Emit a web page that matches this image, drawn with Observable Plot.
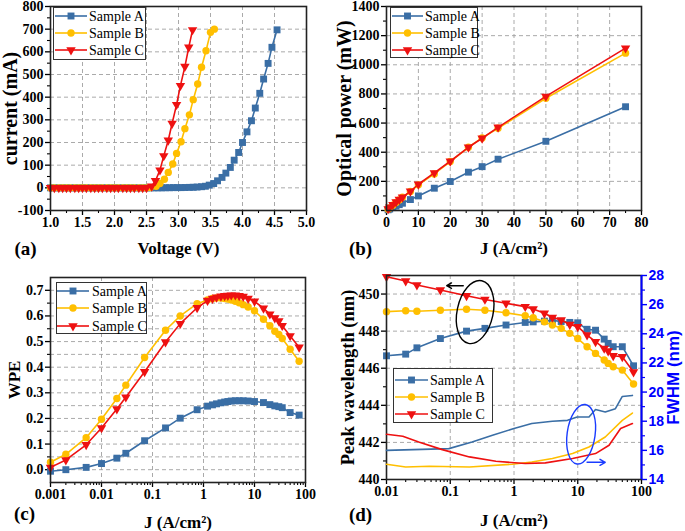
<!DOCTYPE html>
<html><head><meta charset="utf-8">
<script src="https://cdn.jsdelivr.net/npm/d3@7"></script>
<script src="https://cdn.jsdelivr.net/npm/@observablehq/plot@0.6"></script>
<style>
body{margin:0;background:#fff}
#fig{position:relative;width:685px;height:531px;overflow:hidden;background:#fff}
#fig svg{position:absolute}
</style></head><body><div id="fig"></div>
<script>
// ---------- data ----------
const sampleKeys = ["A","B","C"];
const sampleNames = ["Sample A","Sample B","Sample C"];
const colors = {A:"#3a6ea5", B:"#ffbf00", C:"#ee1111"};

// (a) I-V
const aV_A = [1.00,1.06,1.13,1.19,1.25,1.31,1.38,1.44,1.50,1.56,1.63,1.69,1.75,1.81,1.88,1.94,2.00,2.06,2.13,2.19,2.25,2.31,2.38,2.44,2.50,2.56,2.62,2.68,2.74,2.80,2.86,2.92,2.98,3.04,3.10,3.17,3.23,3.29,3.36,3.42,3.48,3.55,3.61,3.68,3.74,3.81,3.87,3.94,4.00,4.07,4.14,4.20,4.27,4.33,4.40,4.46,4.54];
const aI_A = [0,0,0,0,0,0,0,0,0,0,0,0,0,0,0,0,0,0,0,0,0,0,0,0,0,0,0,0,0,0.5,0.5,1,1,1,1.5,2,2.5,3.5,5,7,12,19,31,46,65,90,122,156,200,247,296,352,417,480,549,620,697];
const aV_B = [1.00,1.06,1.13,1.19,1.25,1.31,1.38,1.44,1.50,1.56,1.63,1.69,1.75,1.81,1.88,1.94,2.00,2.06,2.13,2.19,2.25,2.31,2.38,2.44,2.50,2.56,2.65,2.71,2.78,2.84,2.91,2.97,3.04,3.10,3.17,3.23,3.30,3.36,3.43,3.50,3.56];
const aI_B = [0,0,0,0,0,0,0,0,0,0,0,0,0,0,0,0,0,0,0,0,0,0,0,0,0,1,7,19,38,68,105,152,203,261,322,389,458,532,605,686,700];
const aV_C = [1.00,1.06,1.13,1.19,1.25,1.31,1.38,1.44,1.50,1.56,1.63,1.69,1.75,1.81,1.88,1.94,2.00,2.06,2.13,2.19,2.25,2.31,2.38,2.44,2.50,2.58,2.64,2.71,2.77,2.84,2.90,2.97,3.03,3.10,3.16,3.22];
const aI_C = [0,0,0,0,0,0,0,0,0,0,0,0,0,0,0,0,0,0,0,0,0,0,0,0,0,7,31,78,141,210,284,367,451,535,620,697];
const aXTicks = [1,1.5,2,2.5,3,3.5,4,4.5,5];
const aXMinor = [1.25,1.75,2.25,2.75,3.25,3.75,4.25,4.75];
const aYTicks = [-100,0,100,200,300,400,500,600,700,800];
const aYMinor = [-50,50,150,250,350,450,550,650,750];

// (b) optical power
const bJ = [0.5,1,2,3,4,5,7.5,10,15,20,25.7,30,35,50,75];
const bP_A = [5,10,20,30,40,50,75,100,153,199,263,301,352,475,712];
const bP_B = [9,18,36,55,72,91,130,176,251,336,434,498,564,770,1080];
const bP_C = [11,22,40,58,75,91,132,180,258,338,434,496,571,783,1114];
const bXTicks = [0,10,20,30,40,50,60,70,80];
const bXMinor = [5,15,25,35,45,55,65,75];
const bYTicks = [0,200,400,600,800,1000,1200,1400];
const bYMinor = [100,300,500,700,900,1100,1300];

// (c) WPE
const cJ = [0.001,0.002,0.005,0.01,0.02,0.03,0.07,0.18,0.35,0.75,1.2,1.5,1.8,2.2,2.6,3.0,3.5,4.2,5.0,6.0,7.5,10,15,20,25,30,35,50,75];
const cW_A = [-0.006,0.0,0.009,0.024,0.045,0.064,0.113,0.163,0.201,0.234,0.248,0.253,0.257,0.261,0.264,0.266,0.268,0.269,0.269,0.269,0.268,0.266,0.262,0.254,0.249,0.246,0.242,0.223,0.213];
const cW_B = [0.029,0.060,0.125,0.197,0.278,0.330,0.438,0.544,0.600,0.648,0.662,0.668,0.670,0.670,0.668,0.666,0.662,0.657,0.651,0.644,0.635,0.620,0.587,0.562,0.540,0.528,0.512,0.470,0.423];
const cW_C = [0.009,0.038,0.097,0.163,0.237,0.283,0.382,0.498,0.570,0.632,0.660,0.668,0.673,0.677,0.679,0.680,0.681,0.681,0.679,0.676,0.668,0.657,0.630,0.607,0.592,0.580,0.562,0.522,0.478];
const cXTicks = [0.001,0.01,0.1,1,10,100];
const cYTicks = [0,0.1,0.2,0.3,0.4,0.5,0.6,0.7];
const cYMinor = [0.05,0.15,0.25,0.35,0.45,0.55,0.65];

// (d) peak wavelength + FWHM
const dJ = [0.01,0.02,0.03,0.07,0.18,0.35,0.75,1.5,2,3,4,5.5,7.5,10,14,19,26,30,36,50,75];
const dWL_A = [446.67,446.76,447.1,447.6,448.0,448.15,448.33,448.47,448.5,448.54,448.58,448.52,448.47,448.45,448.1,448.05,447.57,447.34,447.16,447.16,446.13];
const dWL_B = [449.05,449.1,449.07,449.13,449.18,449.13,448.99,448.83,448.72,448.5,448.33,448.15,447.88,447.6,447.16,446.8,446.44,446.26,446.08,445.9,445.15];
const dWL_C = [450.93,450.7,450.49,450.22,449.91,449.71,449.5,449.32,449.19,448.96,448.74,448.6,448.36,448.24,447.79,447.43,447.07,446.93,446.67,446.62,445.8];
const fJ_A = [0.01,0.095,0.22,0.46,1.0,1.9,4,6.9,9.8,15,19,27,39,50,72];
const fW_A = [16.0,16.12,16.58,17.03,17.5,17.84,18.0,18.06,18.29,18.29,18.8,18.63,18.86,19.7,19.77];
const fJ_B = [0.01,0.02,0.047,0.2,0.94,1.9,4,8.3,15,27,50,72];
const fW_B = [15.05,14.86,14.91,14.86,15.05,15.2,15.44,15.78,16.23,16.92,18.06,18.56];
const fJ_C = [0.01,0.018,0.032,0.075,0.2,0.52,1.5,3.1,8.3,19,31,47,72];
const fW_C = [17.1,16.97,16.58,16.05,15.55,15.25,15.1,15.14,15.44,15.78,16.35,17.5,17.84];
const dXTicks = [0.01,0.1,1,10,100];
const dYTicks = [440,442,444,446,448,450];
const dYMinor = [441,443,445,447,449];
const fYTicks = [14,16,18,20,22,24,26,28];
const fYMinor = [15,17,19,21,23,25,27];

// annotations in (d): loops and arrows (data coordinates)
const wlLoop = [{J:0.25, v:449.0}];
const wlArrow = [{J1:0.16, J2:0.088, v:450.45}];
const fwLoop = [{J:11.5, v:17.07}];
const fwArrow = [{J1:14, J2:27, v:15.18}];

// ---------- helpers ----------
const fig = document.getElementById("fig");
const serif = "'Liberation Serif','Times New Roman',serif";
const sans = "'Liberation Sans',Arial,sans-serif";
const baseStyle = {fontFamily: serif, fontSize: "14px", fontWeight: "bold", background: "transparent", color: "#000", overflow: "visible"};
const gridStyle = {stroke: "#a0a0a0", strokeOpacity: 1, strokeDasharray: "4,3", strokeWidth: 0.9};
const sym = {A:{symbol:"square", r:3.9, rotate:0}, B:{symbol:"circle", r:3.7, rotate:0}, C:{symbol:"triangle", r:3.5, rotate:180}};
const d3Sym = {A: d3.symbolSquare, B: d3.symbolCircle, C: d3.symbolTriangle};
const zip = (xs, ys) => xs.map((x, i) => ({x, y: ys[i]}));
const logMinor = (lo, hi) => { const t = []; for (let d = lo; d < hi; d *= 10) for (let m = 2; m <= 9; m++) t.push(+(d*m).toPrecision(3)); return t; };
const fmtLog = d => d3.format("~g")(d);
const mid = {textAnchor: "middle", lineAnchor: "middle"};

function place(el, left, top) { el.style.left = left + "px"; el.style.top = top + "px"; fig.append(el); }

function seriesMarks(sets, withDots = true) {
  return sets.flatMap(([k, data]) => [
    Plot.line(data, {x: "x", y: "y", stroke: colors[k], strokeWidth: 1.6}),
    ...(withDots ? [Plot.dot(data, {x: "x", y: "y", fill: colors[k], r: sym[k].r, symbol: sym[k].symbol, rotate: sym[k].rotate})] : [])
  ]);
}

function axesMarks({xT, xM, yT, yM, xF, yF, xG, yG}) {
  return [
    Plot.gridX({ticks: xG, ...gridStyle}),
    Plot.gridY({ticks: yG, ...gridStyle}),
    Plot.axisX({ticks: xM, tickSize: 3, tickFormat: () => "", label: null, strokeWidth: 1.1}),
    Plot.axisX({ticks: xT, tickSize: 5, tickPadding: 2, tickFormat: xF, label: null, strokeWidth: 1.3}),
    Plot.axisY({ticks: yM, tickSize: 3, tickFormat: () => "", label: null, strokeWidth: 1.1}),
    Plot.axisY({ticks: yT, tickSize: 5, tickPadding: 2, tickFormat: yF, label: null, strokeWidth: 1.3})
  ];
}

function titleMarks({xt, xdy, yt, ydx, yfs, lt, ldx, ldy}) {
  return [
    Plot.text([xt], {text: d => d, frameAnchor: "bottom", dy: xdy, fontSize: 17, ...mid}),
    Plot.text([yt], {text: d => d, frameAnchor: "left", dx: ydx, rotate: -90, fontSize: yfs, ...mid}),
    Plot.text([lt], {text: d => d, frameAnchor: "bottom-left", dx: ldx, dy: ldy, fontSize: 19, ...mid})
  ];
}

const frameMark = () => Plot.frame({stroke: "#222", strokeWidth: 1.6});

function legend(x0, y0, x1, y1, rows, lx1, lx2, tx) {
  const w = x1 - x0, h = y1 - y0;
  const svg = d3.create("svg").attr("width", w).attr("height", h).style("overflow", "visible");
  svg.append("rect").attr("x", 0.5).attr("y", 0.5).attr("width", w - 1).attr("height", h - 1)
    .attr("fill", "#fff").attr("stroke", "#333").attr("stroke-width", 1);
  sampleKeys.forEach((k, i) => {
    const cy = rows[i] - y0;
    svg.append("line").attr("x1", lx1 - x0).attr("x2", lx2 - x0).attr("y1", cy).attr("y2", cy)
      .attr("stroke", colors[k]).attr("stroke-width", 1.6);
    svg.append("path").attr("d", d3.symbol(d3Sym[k], Math.PI * sym[k].r * sym[k].r)())
      .attr("transform", `translate(${(lx1 + lx2) / 2 - x0},${cy}) rotate(${sym[k].rotate})`)
      .attr("fill", colors[k]);
    svg.append("text").attr("x", tx - x0).attr("y", cy).attr("dy", "0.35em")
      .attr("font-family", serif).attr("font-size", 14).text(sampleNames[i]);
  });
  place(svg.node(), x0, y0);
}

// ---------- (a) ----------
const pa = Plot.plot({
  width: 340, height: 265, marginLeft: 50, marginRight: 34, marginTop: 6, marginBottom: 55,
  x: {domain: [1, 5], label: null}, y: {domain: [-100, 800], label: null}, style: baseStyle,
  marks: [
    ...axesMarks({xT: aXTicks, xM: aXMinor, yT: aYTicks, yM: aYMinor, xF: d => d.toFixed(1), yF: d => String(d), xG: aXTicks, yG: aYTicks}),
    ...seriesMarks([["A", zip(aV_A, aI_A)], ["B", zip(aV_B, aI_B)], ["C", zip(aV_C, aI_C)]]),
    frameMark(),
    ...titleMarks({xt: "Voltage (V)", xdy: 38, yt: "current (mA)", ydx: -40, yfs: 20, lt: "(a)", ldx: -25, ldy: 38})
  ]
});
place(pa, 0, 0);

// ---------- (b) ----------
const pb = Plot.plot({
  width: 345, height: 265, marginLeft: 46, marginRight: 44, marginTop: 6, marginBottom: 55,
  x: {domain: [0, 80], label: null}, y: {domain: [0, 1400], label: null}, style: baseStyle,
  marks: [
    ...axesMarks({xT: bXTicks, xM: bXMinor, yT: bYTicks, yM: bYMinor, xF: d => String(d), yF: d => String(d), xG: bXTicks, yG: bYTicks}),
    ...seriesMarks([["A", zip(bJ, bP_A)], ["B", zip(bJ, bP_B)], ["C", zip(bJ, bP_C)]]),
    frameMark(),
    ...titleMarks({xt: "J (A/cm²)", xdy: 38, yt: "Optical power (mW)", ydx: -42, yfs: 20, lt: "(b)", ldx: -26, ldy: 38})
  ]
});
place(pb, 340, 0);

// ---------- (c) ----------
const pc = Plot.plot({
  width: 340, height: 266, marginLeft: 50, marginRight: 35, marginTop: 12, marginBottom: 49,
  x: {type: "log", domain: [0.001, 100], label: null}, y: {domain: [-0.05, 0.75], label: null}, style: baseStyle,
  marks: [
    ...axesMarks({xT: cXTicks, xM: logMinor(0.001, 100), yT: cYTicks, yM: cYMinor, xF: fmtLog, yF: d => d.toFixed(1), xG: cXTicks, yG: [...cYTicks, ...cYMinor]}),
    ...seriesMarks([["A", zip(cJ, cW_A)], ["B", zip(cJ, cW_B)], ["C", zip(cJ, cW_C)]]),
    frameMark(),
    ...titleMarks({xt: "J (A/cm²)", xdy: 40, yt: "WPE", ydx: -36, yfs: 17, lt: "(c)", ldx: -26, ldy: 31})
  ]
});
place(pc, 0, 265);

// ---------- (d) wavelength (left axis) ----------
const pd = Plot.plot({
  width: 345, height: 266, marginLeft: 46, marginRight: 44, marginTop: 10, marginBottom: 52,
  x: {type: "log", domain: [0.01, 100], label: null}, y: {domain: [440, 451], label: null}, style: baseStyle,
  marks: [
    ...axesMarks({xT: dXTicks, xM: logMinor(0.01, 100), yT: dYTicks, yM: dYMinor, xF: fmtLog, yF: d => String(d), xG: dXTicks, yG: dYTicks}),
    ...seriesMarks([["A", zip(dJ, dWL_A)], ["B", zip(dJ, dWL_B)], ["C", zip(dJ, dWL_C)]]),
    frameMark(),
    (index, {x, y}) => {
      const g = d3.create("svg:g");
      for (const e of wlLoop) {
        const cx = x(e.J), cy = y(e.v);
        g.append("ellipse").attr("cx", cx).attr("cy", cy).attr("rx", 18).attr("ry", 32)
          .attr("transform", `rotate(12,${cx},${cy})`).attr("fill", "none").attr("stroke", "#000").attr("stroke-width", 1.4);
      }
      return g.node();
    },
    Plot.arrow(wlArrow, {x1: "J1", x2: "J2", y1: "v", y2: "v", stroke: "#000", strokeWidth: 1.4, headLength: 7}),
    ...titleMarks({xt: "J (A/cm²)", xdy: 41, yt: "Peak wavelength (nm)", ydx: -38, yfs: 18.5, lt: "(d)", ldx: -26, ldy: 35})
  ]
});
place(pd, 340, 265);

// ---------- (d) FWHM (right axis overlay) ----------
const pf = Plot.plot({
  width: 345, height: 266, marginLeft: 46, marginRight: 44, marginTop: 10, marginBottom: 52,
  x: {type: "log", domain: [0.01, 100], label: null, axis: null}, y: {domain: [14, 28], label: null},
  style: {...baseStyle, fontFamily: sans},
  marks: [
    ...seriesMarks([["A", zip(fJ_A, fW_A)], ["B", zip(fJ_B, fW_B)], ["C", zip(fJ_C, fW_C)]], false),
    Plot.ruleX([100], {stroke: "#0000ff", strokeWidth: 2}),
    Plot.axisY({anchor: "right", ticks: fYMinor, tickSize: 3, tickFormat: () => "", label: null, stroke: "#0000ff", strokeWidth: 1.2}),
    Plot.axisY({anchor: "right", ticks: fYTicks, tickSize: 5, tickPadding: 2, tickFormat: d => String(d), label: null, color: "#0000ff", strokeWidth: 1.4}),
    Plot.text(["FWHM (nm)"], {text: d => d, frameAnchor: "right", dx: 32, rotate: -90, fontSize: 17, fill: "#0000ff", ...mid}),
    (index, {x, y}) => {
      const g = d3.create("svg:g");
      for (const e of fwLoop) {
        const cx = x(e.J), cy = y(e.v);
        g.append("ellipse").attr("cx", cx).attr("cy", cy).attr("rx", 14).attr("ry", 30)
          .attr("transform", `rotate(8,${cx},${cy})`).attr("fill", "none").attr("stroke", "#1a3cff").attr("stroke-width", 1.4);
      }
      return g.node();
    },
    Plot.arrow(fwArrow, {x1: "J1", x2: "J2", y1: "v", y2: "v", stroke: "#1a3cff", strokeWidth: 1.4, headLength: 7})
  ]
});
place(pf, 340, 265);

// ---------- legends ----------
legend(53, 7, 146, 60, [16, 33, 50], 55, 87, 89);
legend(390, 7, 478, 58, [16, 33, 50], 392, 423, 425);
legend(56, 282, 147, 334, [291, 308, 326], 57, 89, 92);
legend(393, 368, 493, 423, [380, 397, 414], 395, 428, 430);
</script></body></html>
